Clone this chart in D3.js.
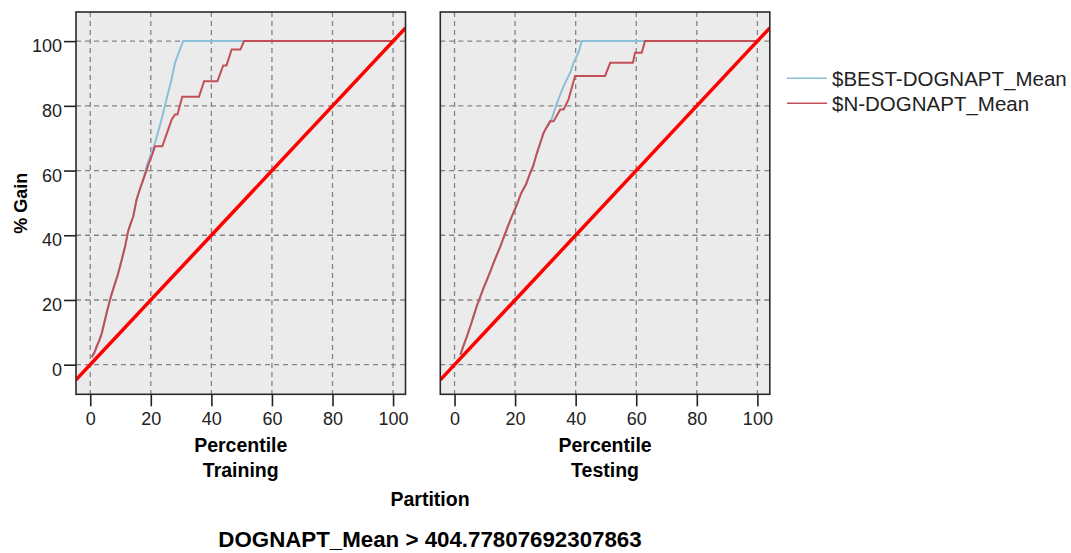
<!DOCTYPE html>
<html>
<head>
<meta charset="utf-8">
<script src="https://cdn.jsdelivr.net/npm/d3@7"></script>
<style>
  body { margin: 0; background: #fff; }
  text { font-family: "Liberation Sans", Arial, sans-serif; }
</style>
</head>
<body>
<div id="chart"></div>
<script>
// gain curves, [percentile, % gain]
var trainBest = [[0.5,2.3],[1.5,4],[2.1,5.6],[3,7.5],[3.8,9.7],[4.6,12.8],[5.4,15.9],[6.5,20],[7.3,22.5],[8.2,25.2],[9,27.5],[9.8,30.3],[10.7,33.5],[11.5,36.5],[12.5,41.2],[13.3,43.5],[14.2,45.8],[15.3,51],[16.3,54],[17.5,57.2],[18.6,61.3],[20,65],[21.4,68.5],[22.6,72.5],[23.8,76.8],[25.7,84],[26.8,88],[28,93.3],[29.6,97.4],[30.7,100],[100,100]];
var trainN = [[0.5,2.3],[1.5,4],[2.1,5.6],[3,7.5],[3.8,9.7],[4.6,12.8],[5.4,15.9],[6.5,20],[7.3,22.5],[8.2,25.2],[9,27.5],[9.8,30.3],[10.7,33.5],[11.5,36.5],[12.5,41.2],[13.3,43.5],[14.2,45.8],[15.3,51],[16.3,54],[17.5,57.2],[18.4,59.5],[19.4,62.4],[20.5,65],[21.4,67.5],[23.8,67.5],[25.3,71.5],[26.9,75.8],[28,77.3],[28.8,77.3],[30.4,82.8],[35.9,82.8],[37.6,87.6],[42,87.6],[43.9,92.5],[45,92.5],[46.7,97.4],[49.6,97.4],[50.8,100],[100,100]];
var testBest = [[1.9,3],[3,6],[4,8.5],[5.2,11.8],[6.3,15],[7.3,18],[8.5,21],[9.5,23.5],[10.6,26],[11.8,28.8],[12.9,31.5],[14,34],[15.1,36.5],[16.3,39.5],[17.8,43.2],[19,46],[20.6,49.5],[22,53],[23.5,55.5],[25,59.3],[26,61.5],[27.2,65.4],[28.3,68.5],[29.4,71.6],[30.5,73.5],[31.6,75.2],[32.1,76],[33.5,80],[34.9,83.5],[36,86],[37.1,88.2],[38.3,90.5],[39.3,93.3],[40.9,96.4],[42,100],[100,100]];
var testN = [[1.9,3],[3,6],[4,8.5],[5.2,11.8],[6.3,15],[7.3,18],[8.5,21],[9.5,23.5],[10.6,26],[11.8,28.8],[12.9,31.5],[14,34],[15.1,36.5],[16.3,39.5],[17.8,43.2],[19,46],[20.6,49.5],[22,53],[23.5,55.5],[25,59.3],[26,61.5],[27.2,65.4],[28.3,68.5],[29.4,71.6],[30.5,73.5],[31.6,75.2],[32.7,75.2],[34.9,78.9],[36,78.9],[37.6,81.9],[39.8,89.2],[49.7,89.2],[51.4,93.3],[58.9,93.3],[59.6,96.4],[61.8,96.4],[62.9,100],[100,100]];

var partitions = ["Training", "Testing"];
var seriesNames = ["$BEST-DOGNAPT_Mean", "$N-DOGNAPT_Mean"];
var seriesColors = ["#8cbfd8", "#c24f57"];
var tickValues = [0, 20, 40, 60, 80, 100];
var xDomain = [-4.7, 104.1], yDomain = [-9.15, 109];

var svgWidth = 1071, svgHeight = 553;
var panelTop = 12, panelHeight = 382.3, panelWidth = 329.5;
var panelLeft = [76, 440.3];

var svg = d3.select("#chart").append("svg")
    .attr("width", svgWidth)
    .attr("height", svgHeight);

var y = d3.scaleLinear().domain(yDomain).range([panelTop + panelHeight, panelTop]);

var line = function (x) {
    return d3.line().x(d => x(d[0])).y(d => y(d[1]));
};

var panelData = [[trainBest, trainN], [testBest, testN]];

partitions.forEach(function (name, i) {
    var x = d3.scaleLinear().domain(xDomain).range([panelLeft[i], panelLeft[i] + panelWidth]);
    var g = svg.append("g");

    g.append("clipPath").attr("id", "clip" + i)
        .append("rect")
        .attr("x", panelLeft[i]).attr("y", panelTop)
        .attr("width", panelWidth).attr("height", panelHeight);

    g.append("rect")
        .attr("x", panelLeft[i]).attr("y", panelTop)
        .attr("width", panelWidth).attr("height", panelHeight)
        .attr("fill", "#ebebeb");

    // dashed grid
    g.selectAll(".vgrid").data(tickValues).enter().append("line")
        .attr("x1", d => x(d)).attr("x2", d => x(d))
        .attr("y1", panelTop).attr("y2", panelTop + panelHeight)
        .attr("stroke", "#858585").attr("stroke-width", 1.3)
        .attr("stroke-dasharray", "5,4");
    g.selectAll(".hgrid").data(tickValues).enter().append("line")
        .attr("x1", panelLeft[i]).attr("x2", panelLeft[i] + panelWidth)
        .attr("y1", d => y(d)).attr("y2", d => y(d))
        .attr("stroke", "#858585").attr("stroke-width", 1.3)
        .attr("stroke-dasharray", "5,4");

    var plot = g.append("g").attr("clip-path", "url(#clip" + i + ")");
    panelData[i].forEach(function (s, k) {
        plot.append("path")
            .datum(s)
            .attr("d", line(x))
            .attr("fill", "none")
            .attr("stroke", seriesColors[k])
            .attr("stroke-width", 2);
    });
    // baseline diagonal
    plot.append("path")
        .datum([[xDomain[0], xDomain[0]], [xDomain[1], xDomain[1]]])
        .attr("d", line(x))
        .attr("fill", "none")
        .attr("stroke", "#ff0000")
        .attr("stroke-width", 3.5);

    g.append("rect")
        .attr("x", panelLeft[i]).attr("y", panelTop)
        .attr("width", panelWidth).attr("height", panelHeight)
        .attr("fill", "none").attr("stroke", "#2a2a2a").attr("stroke-width", 1.6);

    var xAxis = g.append("g")
        .attr("transform", `translate(0, ${panelTop + panelHeight})`)
        .call(d3.axisBottom(x).tickValues(tickValues).tickSize(12).tickSizeOuter(0).tickPadding(6));
    xAxis.select(".domain").remove();
    xAxis.selectAll("line").attr("stroke", "#222").attr("stroke-width", 1.6);
    xAxis.selectAll("text").attr("font-size", 18).attr("fill", "#222")
        .style("font-family", "'Liberation Sans', Arial, sans-serif");

    g.append("text")
        .attr("x", panelLeft[i] + panelWidth / 2).attr("y", 452)
        .attr("text-anchor", "middle").attr("font-size", 19.5).attr("font-weight", "bold")
        .text("Percentile");
    g.append("text")
        .attr("x", panelLeft[i] + panelWidth / 2).attr("y", 477)
        .attr("text-anchor", "middle").attr("font-size", 19.5).attr("font-weight", "bold")
        .text(name);

    if (i === 0) {
        var yAxis = g.append("g")
            .attr("transform", `translate(${panelLeft[0]}, 0)`)
            .call(d3.axisLeft(y).tickValues(tickValues).tickSize(12).tickSizeOuter(0).tickPadding(2));
        yAxis.select(".domain").remove();
        yAxis.selectAll("line").attr("stroke", "#222").attr("stroke-width", 1.6);
        yAxis.selectAll("text").attr("font-size", 18).attr("fill", "#222").attr("dy", "0.58em")
            .style("font-family", "'Liberation Sans', Arial, sans-serif");
    }
});

svg.append("text")
    .attr("transform", `translate(26.5, ${panelTop + panelHeight / 2}) rotate(-90)`)
    .attr("text-anchor", "middle").attr("font-size", 18).attr("font-weight", "bold")
    .text("% Gain");

svg.append("text")
    .attr("x", 430).attr("y", 506)
    .attr("text-anchor", "middle").attr("font-size", 19.5).attr("font-weight", "bold")
    .text("Partition");

svg.append("text")
    .attr("x", 430).attr("y", 547)
    .attr("text-anchor", "middle").attr("font-size", 22.3).attr("font-weight", "bold")
    .text("DOGNAPT_Mean > 404.77807692307863");

// legend
var legend = svg.append("g").attr("transform", "translate(787, 78.3)");
seriesNames.forEach(function (n, k) {
    var row = legend.append("g").attr("transform", `translate(0, ${k * 25})`);
    row.append("line").attr("x1", 0).attr("x2", 40)
        .attr("stroke", seriesColors[k]).attr("stroke-width", 1.6);
    row.append("text").attr("x", 45).attr("y", 7.5)
        .attr("font-size", 20.5).attr("fill", "#222")
        .text(n);
});
</script>
</body>
</html>
